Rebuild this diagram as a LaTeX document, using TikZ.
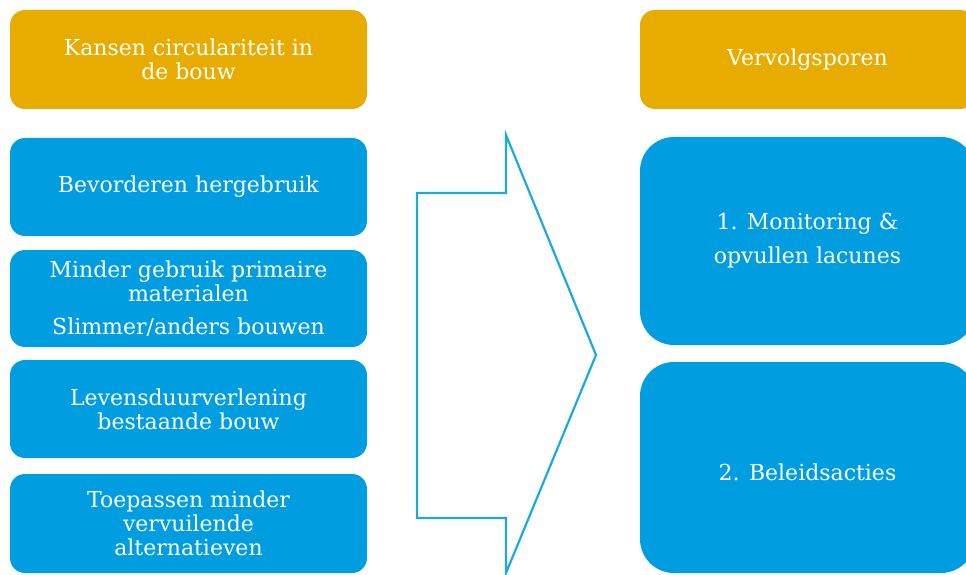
\documentclass[tikz,border=0pt]{standalone}
\usepackage{fontspec}
\setmainfont{DejaVu Serif}
\definecolor{gold}{HTML}{E8AC00}
\definecolor{sky}{HTML}{009EE0}
\definecolor{arrowblue}{HTML}{1CA9E2}
\begin{document}
\begin{tikzpicture}[x=1pt,y=-1pt,
  box/.style={rounded corners=15pt, inner sep=0pt, align=center, text=white,
    font=\fontsize{22}{24}\selectfont},
  leftbox/.style={box, minimum width=357pt},
  rightbox/.style={box, minimum width=335pt},
  bigbox/.style={rightbox, rounded corners=34pt, font=\fontsize{22}{34}\selectfont}]
\useasboundingbox (0,0) rectangle (966,575);
\clip (0,0) rectangle (966,575);

% left column: opportunities
\node[leftbox, fill=gold, minimum height=99pt] (kansen) at (188.5,59.5)
  {Kansen circulariteit in\\de bouw};
\node[leftbox, fill=sky, minimum height=98pt] (hergebruik) at (188.5,187)
  {Bevorderen hergebruik};
\node[leftbox, fill=sky, minimum height=97pt] (primair) at (188.5,298.5)
  {Minder gebruik primaire\\materialen\\[9pt]Slimmer/anders bouwen};
\node[leftbox, fill=sky, minimum height=98pt] (levensduur) at (188.5,409)
  {Levensduurverlening\\bestaande bouw};
\node[leftbox, fill=sky, minimum height=99pt] (toepassen) at (188.5,523.5)
  {Toepassen minder\\vervuilende\\alternatieven};

% big outlined arrow
\draw[arrowblue, line width=2.2pt, line join=miter]
  (417,193) -- (506,193) -- (506,135) -- (596,355) -- (506,573)
  -- (506,518) -- (417,518) -- cycle;

% right column: follow-up tracks
\node[rightbox, fill=gold, minimum height=99pt] (sporen) at (807.5,59.5)
  {Vervolgsporen};
\node[bigbox, fill=sky, minimum height=208pt] (monitoring) at (807.5,241)
  {1. Monitoring \&\\opvullen lacunes};
\node[bigbox, fill=sky, minimum height=211pt] (beleid) at (807.5,467.5) {};
\node[text=white, font=\fontsize{22}{24}\selectfont] (beleidtxt) at (807.5,472)
  {2. Beleidsacties};
\end{tikzpicture}
\end{document}
